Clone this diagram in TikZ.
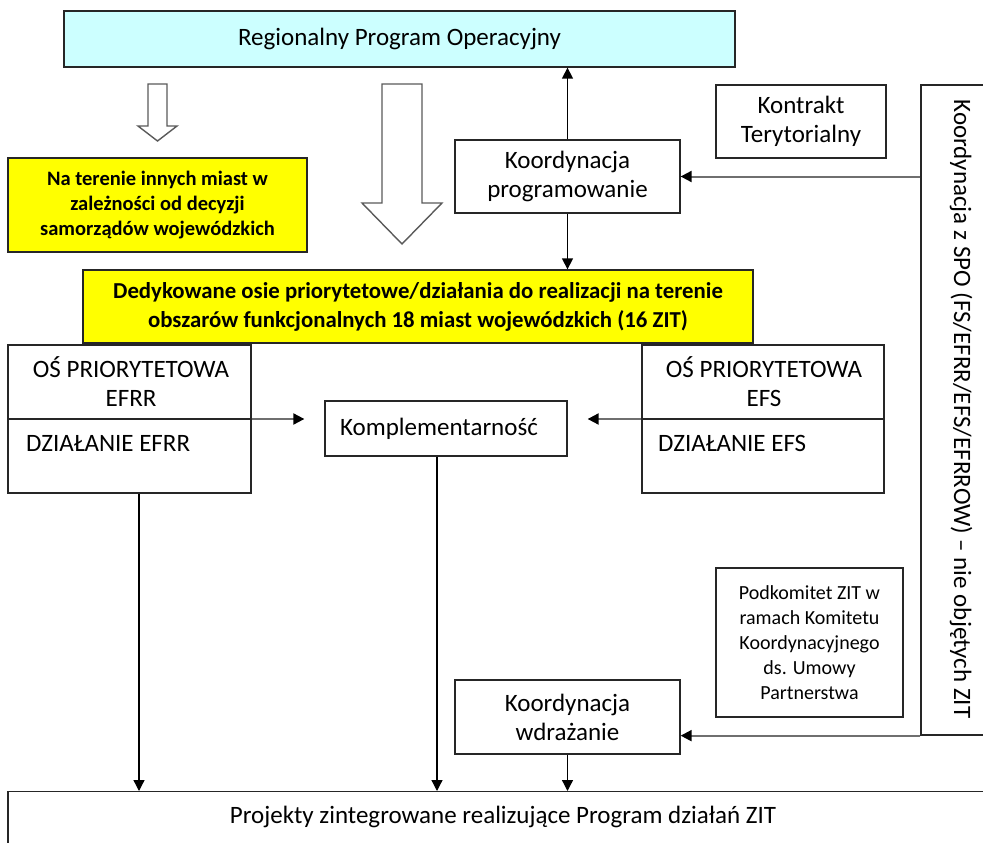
\documentclass[tikz,border=0pt]{standalone}
\usepackage{fontspec}
\setmainfont{Carlito}
\usetikzlibrary{arrows.meta,calc}
\newcommand\fmain{\fontsize{25}{29}\selectfont}
\newcommand\fbold{\fontsize{20.5}{25}\selectfont\bfseries}
\newcommand\fded{\fontsize{22.8}{29}\selectfont\bfseries}
\newcommand\fsmall{\fontsize{20}{25}\selectfont}
\newcommand\fvert{\fontsize{25}{29}\selectfont}
\definecolor{cyanfill}{HTML}{CCFFFF}
\definecolor{yellowfill}{HTML}{FFFF00}
\definecolor{linegray}{HTML}{6F6F6F}
\definecolor{outlinegray}{HTML}{5A5A5A}
\tikzset{
  box/.style={draw=black!85, line width=1.3pt, fill=white, align=center, inner sep=0pt, font=\fmain},
  ybox/.style={box, fill=yellowfill},
  plaintext/.style={inner sep=0pt, align=center, font=\fmain},
  arr/.style={draw=black, line width=1.3pt, -{Triangle[length=11pt,width=11pt]}},
  garr/.style={draw=linegray, line width=2pt, -{Triangle[length=11pt,width=11pt,color=black]}},
  hollow/.style={draw=outlinegray, line width=1.4pt, fill=white, line join=miter},
}
\begin{document}
\begin{tikzpicture}[x=1pt,y=-1pt]
\clip (0,0) rectangle (983,843);
\fill[white] (0,0) rectangle (983,843);

% top program box
\node[box, fill=cyanfill, minimum width=671pt, minimum height=56pt] (rpo) at (399.5,39) {Regionalny Program Operacyjny};

% hollow block arrows
\draw[hollow] (148,84) -- (167,84) -- (167,126) -- (177,126) -- (157.5,141) -- (138,126) -- (148,126) -- cycle;
\draw[hollow] (382,84) -- (422,84) -- (422,203) -- (442,203) -- (402,244) -- (362,203) -- (382,203) -- cycle;

% boxes
\node[box, minimum width=225pt, minimum height=73pt] (koordprog) at (567.5,176.5) {Koordynacja\\programowanie};
\node[box, minimum width=170pt, minimum height=73pt] (kontrakt) at (801,121.5) {Kontrakt\\Terytorialny};
\node[box, minimum width=72pt, minimum height=650pt] (spo) at (957,410) {};
\node[plaintext, font=\fvert, rotate=-90] (spotext) at (961,409) {Koordynacja z SPO (FS/EFRR/EFS/EFRROW) – nie objętych ZIT};

\node[ybox, font=\fbold, minimum width=299pt, minimum height=94pt] (yleft) at (157.5,205) {Na terenie innych miast w\\zależności od decyzji\\samorządów wojewódzkich};
\node[ybox, font=\fded, minimum width=670pt, minimum height=73pt] (ded) at (418,306.5) {Dedykowane osie priorytetowe/działania do realizacji na terenie\\obszarów funkcjonalnych 18 miast wojewódzkich (16 ZIT)};

\node[box, minimum width=243pt, minimum height=148pt] (efrr) at (129.5,419) {};
\draw[draw=black!85, line width=1.3pt] (efrr.west) -- (efrr.east);
\node[plaintext] (efrrtop) at ($(efrr.north)!0.5!(efrr.center)+(1.5,0)$) {OŚ PRIORYTETOWA\\EFRR};
\node[plaintext, anchor=west] (efrrbot) at (26,443.5) {DZIAŁANIE EFRR};

\node[box, minimum width=242pt, minimum height=148pt] (efs) at (763,419) {};
\draw[draw=black!85, line width=1.3pt] (efs.west) -- (efs.east);
\node[plaintext] (efstop) at ($(efs.north)!0.5!(efs.center)+(1,0)$) {OŚ PRIORYTETOWA\\EFS};
\node[plaintext, anchor=west] (efsbot) at (658,443.5) {DZIAŁANIE EFS};

\node[box, minimum width=242pt, minimum height=55pt] (kompl) at (446,428.5) {Komplementarność\hspace*{14pt}};

\node[box, font=\fsmall, minimum width=187pt, minimum height=149pt] (podkom) at (809.5,642.5) {Podkomitet ZIT w\\ramach Komitetu\\Koordynacyjnego\\ds. Umowy\\Partnerstwa};
\node[box, minimum width=225pt, minimum height=74pt] (koordwdr) at (567.5,717) {Koordynacja\\wdrażanie};

\node[box, anchor=north, minimum width=990pt, text height=25pt, text depth=50pt, inner ysep=7pt] (proj) at (503,791) {Projekty zintegrowane realizujące Program działań ZIT};
\draw[draw=black!85, line width=1.3pt] (8,791) -- (8,850);

% connectors
\draw[arr] (koordprog.north) -- (koordprog.north |- rpo.south);
\draw[arr] (koordprog.south) -- (koordprog.south |- ded.north);
\draw[garr] (spo.west |- koordprog.east) -- (koordprog.east);
\draw[garr] (spo.south west) -- (spo.south west -| koordwdr.east);
\draw[garr, shorten >=20pt] (efrr.east) -- (efrr.east -| kompl.west);
\draw[garr, shorten >=20pt] (efs.west) -- (efs.west -| kompl.east);
\draw[arr] ([xshift=9.5pt]efrr.south) coordinate (e1) -- (e1 |- proj.north);
\draw[arr] ([xshift=-9pt]kompl.south) coordinate (k1) -- (k1 |- proj.north);
\draw[arr] (koordwdr.south) -- (koordwdr.south |- proj.north);
\end{tikzpicture}
\end{document}
